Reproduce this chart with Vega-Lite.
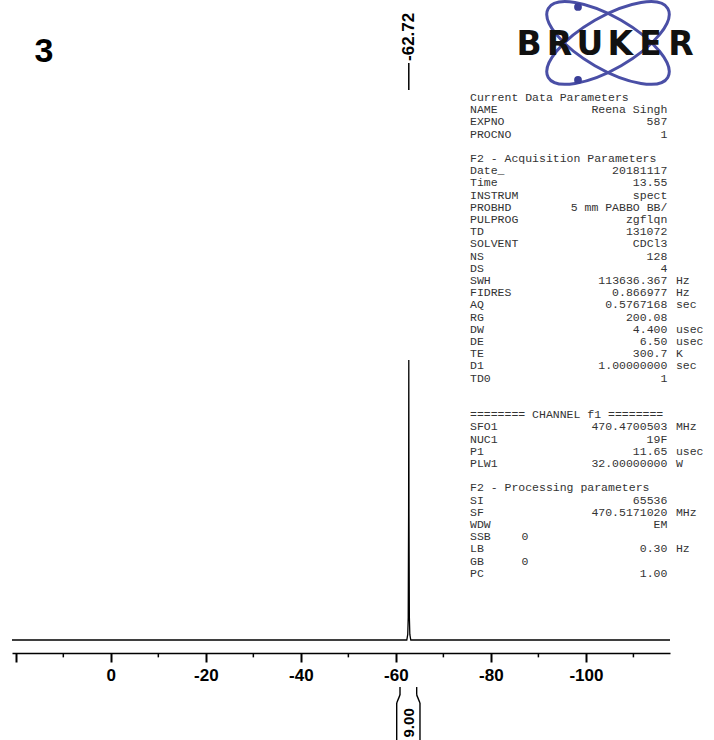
{
  "$schema": "https://vega.github.io/schema/vega-lite/v6.json",
  "width": 658,
  "height": 653,
  "autosize": {"type": "none"},
  "padding": {"left": 12, "top": 0, "right": 44, "bottom": 87},
  "background": "white",
  "config": {"view": {"stroke": null}},
  "datasets": {
    "spectrum": [
      {"ppm": 20.8, "intensity": 0},
      {"ppm": -62.3, "intensity": 0},
      {"ppm": -62.5, "intensity": 2},
      {"ppm": -62.6, "intensity": 8},
      {"ppm": -62.68, "intensity": 45},
      {"ppm": -62.72, "intensity": 100},
      {"ppm": -62.76, "intensity": 45},
      {"ppm": -62.84, "intensity": 8},
      {"ppm": -62.94, "intensity": 2},
      {"ppm": -63.14, "intensity": 0},
      {"ppm": -117.7, "intensity": 0}
    ],
    "minorTicks": [
      {"ppm": 10}, {"ppm": -10}, {"ppm": -30}, {"ppm": -50},
      {"ppm": -70}, {"ppm": -90}, {"ppm": -110}
    ],
    "peaks": [{"ppm": -62.72, "label": "-62.72"}],
    "integrals": [{"start": -60.87, "end": -64.38, "ppm": -62.72, "label": "9.00"}],
    "compound": [{"label": "3"}],
    "params": [
      {"row": 0, "name": "Current Data Parameters"},
      {"row": 1, "name": "NAME", "value": "Reena Singh"},
      {"row": 2, "name": "EXPNO", "value": "587"},
      {"row": 3, "name": "PROCNO", "value": "1"},
      {"row": 5, "name": "F2 - Acquisition Parameters"},
      {"row": 6, "name": "Date_", "value": "20181117"},
      {"row": 7, "name": "Time", "value": "13.55"},
      {"row": 8, "name": "INSTRUM", "value": "spect"},
      {"row": 9, "name": "PROBHD", "value": "5 mm PABBO BB/"},
      {"row": 10, "name": "PULPROG", "value": "zgflqn"},
      {"row": 11, "name": "TD", "value": "131072"},
      {"row": 12, "name": "SOLVENT", "value": "CDCl3"},
      {"row": 13, "name": "NS", "value": "128"},
      {"row": 14, "name": "DS", "value": "4"},
      {"row": 15, "name": "SWH", "value": "113636.367", "unit": "Hz"},
      {"row": 16, "name": "FIDRES", "value": "0.866977", "unit": "Hz"},
      {"row": 17, "name": "AQ", "value": "0.5767168", "unit": "sec"},
      {"row": 18, "name": "RG", "value": "200.08"},
      {"row": 19, "name": "DW", "value": "4.400", "unit": "usec"},
      {"row": 20, "name": "DE", "value": "6.50", "unit": "usec"},
      {"row": 21, "name": "TE", "value": "300.7", "unit": "K"},
      {"row": 22, "name": "D1", "value": "1.00000000", "unit": "sec"},
      {"row": 23, "name": "TD0", "value": "1"},
      {"row": 26, "name": "======== CHANNEL f1 ========"},
      {"row": 27, "name": "SFO1", "value": "470.4700503", "unit": "MHz"},
      {"row": 28, "name": "NUC1", "value": "19F"},
      {"row": 29, "name": "P1", "value": "11.65", "unit": "usec"},
      {"row": 30, "name": "PLW1", "value": "32.00000000", "unit": "W"},
      {"row": 32, "name": "F2 - Processing parameters"},
      {"row": 33, "name": "SI", "value": "65536"},
      {"row": 34, "name": "SF", "value": "470.5171020", "unit": "MHz"},
      {"row": 35, "name": "WDW", "value": "EM"},
      {"row": 36, "name": "SSB", "mid": "0"},
      {"row": 37, "name": "LB", "value": "0.30", "unit": "Hz"},
      {"row": 38, "name": "GB", "mid": "0"},
      {"row": 39, "name": "PC", "value": "1.00"}
    ],
    "logo": [
      {"ch": "B", "k": 0},
      {"ch": "R", "k": 1},
      {"ch": "U", "k": 2},
      {"ch": "K", "k": 3},
      {"ch": "E", "k": 4},
      {"ch": "R", "k": 5}
    ]
  },
  "layer": [
    {
      "data": {"name": "spectrum"},
      "mark": {"type": "line", "color": "black", "strokeWidth": 1.3},
      "encoding": {
        "x": {
          "field": "ppm", "type": "quantitative",
          "scale": {"domain": [-117.7, 20.8], "reverse": true, "nice": false, "zero": false},
          "axis": {
            "orient": "bottom",
            "values": [20, 0, -20, -40, -60, -80, -100],
            "labelExpr": "datum.value == 20 ? '' : (datum.value < 0 ? '-' + abs(datum.value) : '' + datum.value)",
            "title": null,
            "grid": false,
            "domainColor": "black",
            "domainWidth": 1.5,
            "tickColor": "black",
            "tickWidth": 2,
            "tickSize": 9,
            "labelFont": "Liberation Sans",
            "labelFontWeight": "bold",
            "labelFontSize": 17,
            "labelColor": "black",
            "labelPadding": 5,
            "labelOverlap": false
          }
        },
        "y": {
          "field": "intensity", "type": "quantitative",
          "scale": {"domain": [-4.643, 228.571], "nice": false, "zero": false},
          "axis": null
        }
      }
    },
    {
      "data": {"name": "minorTicks"},
      "mark": {"type": "rule", "color": "black", "strokeWidth": 1.5},
      "encoding": {
        "x": {"field": "ppm", "type": "quantitative", "scale": {"domain": [-117.7, 20.8], "reverse": true, "nice": false, "zero": false}, "axis": null},
        "y": {"datum": -4.643, "type": "quantitative", "scale": {"domain": [-4.643, 228.571], "nice": false, "zero": false}, "axis": null},
        "y2": {"datum": -6.2}
      }
    },
    {
      "data": {"name": "peaks"},
      "mark": {"type": "rule", "color": "black", "strokeWidth": 1.5},
      "encoding": {
        "x": {"field": "ppm", "type": "quantitative", "scale": {"domain": [-117.7, 20.8], "reverse": true, "nice": false, "zero": false}, "axis": null},
        "y": {"datum": 206.07, "type": "quantitative", "scale": {"domain": [-4.643, 228.571], "nice": false, "zero": false}, "axis": null},
        "y2": {"datum": 196.43}
      }
    },
    {
      "data": {"name": "peaks"},
      "mark": {"type": "text", "angle": 270, "align": "left", "baseline": "middle", "font": "Liberation Sans", "fontWeight": "bold", "fontSize": 17, "color": "black"},
      "encoding": {
        "x": {"field": "ppm", "type": "quantitative", "scale": {"domain": [-117.7, 20.8], "reverse": true, "nice": false, "zero": false}, "axis": null},
        "y": {"datum": 206.8, "type": "quantitative", "scale": {"domain": [-4.643, 228.571], "nice": false, "zero": false}, "axis": null},
        "text": {"field": "label"}
      }
    },
    {
      "data": {"name": "integrals"},
      "mark": {"type": "rule", "color": "black", "strokeWidth": 1.4},
      "encoding": {
        "x": {"field": "start", "type": "quantitative", "scale": {"domain": [-117.7, 20.8], "reverse": true, "nice": false, "zero": false}, "axis": null},
        "y": {"datum": -16.8, "type": "quantitative", "scale": {"domain": [-4.643, 228.571], "nice": false, "zero": false}, "axis": null},
        "y2": {"datum": -19.6}
      }
    },
    {
      "data": {"name": "integrals"},
      "mark": {"type": "rule", "color": "black", "strokeWidth": 1.4},
      "encoding": {
        "x": {"field": "end", "type": "quantitative", "scale": {"domain": [-117.7, 20.8], "reverse": true, "nice": false, "zero": false}, "axis": null},
        "y": {"datum": -16.8, "type": "quantitative", "scale": {"domain": [-4.643, 228.571], "nice": false, "zero": false}, "axis": null},
        "y2": {"datum": -19.6}
      }
    },
    {
      "data": {"name": "integrals"},
      "mark": {"type": "rule", "color": "black", "strokeWidth": 1.4, "x2Offset": -3.3},
      "encoding": {
        "x": {"field": "start", "type": "quantitative", "scale": {"domain": [-117.7, 20.8], "reverse": true, "nice": false, "zero": false}, "axis": null},
        "x2": {"field": "start"},
        "y": {"datum": -19.6, "type": "quantitative", "scale": {"domain": [-4.643, 228.571], "nice": false, "zero": false}, "axis": null},
        "y2": {"datum": -22.5}
      }
    },
    {
      "data": {"name": "integrals"},
      "mark": {"type": "rule", "color": "black", "strokeWidth": 1.4, "x2Offset": 3.3},
      "encoding": {
        "x": {"field": "end", "type": "quantitative", "scale": {"domain": [-117.7, 20.8], "reverse": true, "nice": false, "zero": false}, "axis": null},
        "x2": {"field": "end"},
        "y": {"datum": -19.6, "type": "quantitative", "scale": {"domain": [-4.643, 228.571], "nice": false, "zero": false}, "axis": null},
        "y2": {"datum": -22.5}
      }
    },
    {
      "data": {"name": "integrals"},
      "mark": {"type": "rule", "color": "black", "strokeWidth": 1.4, "xOffset": -3.3},
      "encoding": {
        "x": {"field": "start", "type": "quantitative", "scale": {"domain": [-117.7, 20.8], "reverse": true, "nice": false, "zero": false}, "axis": null},
        "y": {"datum": -22.5, "type": "quantitative", "scale": {"domain": [-4.643, 228.571], "nice": false, "zero": false}, "axis": null},
        "y2": {"datum": -37.5}
      }
    },
    {
      "data": {"name": "integrals"},
      "mark": {"type": "rule", "color": "black", "strokeWidth": 1.4, "xOffset": 3.3},
      "encoding": {
        "x": {"field": "end", "type": "quantitative", "scale": {"domain": [-117.7, 20.8], "reverse": true, "nice": false, "zero": false}, "axis": null},
        "y": {"datum": -22.5, "type": "quantitative", "scale": {"domain": [-4.643, 228.571], "nice": false, "zero": false}, "axis": null},
        "y2": {"datum": -37.5}
      }
    },
    {
      "data": {"name": "integrals"},
      "mark": {"type": "text", "angle": 270, "align": "center", "baseline": "middle", "font": "Liberation Sans", "fontWeight": "bold", "fontSize": 15, "color": "black"},
      "encoding": {
        "x": {"field": "ppm", "type": "quantitative", "scale": {"domain": [-117.7, 20.8], "reverse": true, "nice": false, "zero": false}, "axis": null},
        "y": {"datum": -29.6, "type": "quantitative", "scale": {"domain": [-4.643, 228.571], "nice": false, "zero": false}, "axis": null},
        "text": {"field": "label"}
      }
    },
    {
      "data": {"name": "compound"},
      "mark": {"type": "text", "align": "center", "baseline": "alphabetic", "font": "Liberation Sans", "fontWeight": "bold", "fontSize": 34, "color": "black"},
      "encoding": {
        "x": {"datum": 14.06, "type": "quantitative", "scale": {"domain": [-117.7, 20.8], "reverse": true, "nice": false, "zero": false}, "axis": null},
        "y": {"datum": 206.4, "type": "quantitative", "scale": {"domain": [-4.643, 228.571], "nice": false, "zero": false}, "axis": null},
        "text": {"field": "label"}
      }
    },
    {
      "data": {"name": "params"},
      "mark": {"type": "text", "align": "left", "baseline": "middle", "font": "Liberation Mono", "fontSize": 11.5, "color": "#333333"},
      "encoding": {
        "x": {"datum": 0, "type": "quantitative", "scale": {"domain": [-53.38, 23.31], "nice": false, "zero": false}, "axis": null},
        "y": {"field": "row", "type": "quantitative", "scale": {"domain": [-8.033, 45.492], "reverse": true, "nice": false, "zero": false}, "axis": null},
        "text": {"field": "name"}
      }
    },
    {
      "data": {"name": "params"},
      "transform": [{"filter": "isValid(datum.value)"}],
      "mark": {"type": "text", "align": "right", "baseline": "middle", "font": "Liberation Mono", "fontSize": 11.5, "color": "#333333"},
      "encoding": {
        "x": {"datum": 23, "type": "quantitative", "scale": {"domain": [-53.38, 23.31], "nice": false, "zero": false}, "axis": null},
        "y": {"field": "row", "type": "quantitative", "scale": {"domain": [-8.033, 45.492], "reverse": true, "nice": false, "zero": false}, "axis": null},
        "text": {"field": "value"}
      }
    },
    {
      "data": {"name": "params"},
      "transform": [{"filter": "isValid(datum.unit)"}],
      "mark": {"type": "text", "align": "left", "baseline": "middle", "font": "Liberation Mono", "fontSize": 11.5, "color": "#333333"},
      "encoding": {
        "x": {"datum": 24, "type": "quantitative", "scale": {"domain": [-53.38, 23.31], "nice": false, "zero": false}, "axis": null},
        "y": {"field": "row", "type": "quantitative", "scale": {"domain": [-8.033, 45.492], "reverse": true, "nice": false, "zero": false}, "axis": null},
        "text": {"field": "unit"}
      }
    },
    {
      "data": {"name": "params"},
      "transform": [{"filter": "isValid(datum.mid)"}],
      "mark": {"type": "text", "align": "left", "baseline": "middle", "font": "Liberation Mono", "fontSize": 11.5, "color": "#333333"},
      "encoding": {
        "x": {"datum": 6, "type": "quantitative", "scale": {"domain": [-53.38, 23.31], "nice": false, "zero": false}, "axis": null},
        "y": {"field": "row", "type": "quantitative", "scale": {"domain": [-8.033, 45.492], "reverse": true, "nice": false, "zero": false}, "axis": null},
        "text": {"field": "mid"}
      }
    },
    {
      "data": {"values": [{"orbit": "a"}]},
      "mark": {"type": "point", "shape": "M -1 0 C -1 -0.21 -0.552 -0.38 0 -0.38 C 0.552 -0.38 1 -0.21 1 0 C 1 0.21 0.552 0.38 0 0.38 C -0.552 0.38 -1 0.21 -1 0 Z", "size": 19044, "filled": false, "stroke": "#4a4fa6", "strokeWidth": 3, "opacity": 1, "angle": 30},
      "encoding": {
        "x": {"datum": 2.599, "type": "quantitative", "scale": {"domain": [-17.007, 4.638], "nice": false, "zero": false}, "axis": null},
        "y": {"datum": 0, "type": "quantitative", "scale": {"domain": [-1.414, 20.066], "reverse": true, "nice": false, "zero": false}, "axis": null}
      }
    },
    {
      "data": {"values": [{"orbit": "b"}]},
      "mark": {"type": "point", "shape": "M -1 0 C -1 -0.21 -0.552 -0.38 0 -0.38 C 0.552 -0.38 1 -0.21 1 0 C 1 0.21 0.552 0.38 0 0.38 C -0.552 0.38 -1 0.21 -1 0 Z", "size": 19044, "filled": false, "stroke": "#4a4fa6", "strokeWidth": 3, "opacity": 1, "angle": -30},
      "encoding": {
        "x": {"datum": 2.599, "type": "quantitative", "scale": {"domain": [-17.007, 4.638], "nice": false, "zero": false}, "axis": null},
        "y": {"datum": 0, "type": "quantitative", "scale": {"domain": [-1.414, 20.066], "reverse": true, "nice": false, "zero": false}, "axis": null}
      }
    },
    {
      "data": {"values": [{"dot": "top"}]},
      "mark": {"type": "point", "shape": "circle", "size": 60, "filled": true, "color": "#3b3f98", "opacity": 1},
      "encoding": {
        "x": {"datum": 1.612, "type": "quantitative", "scale": {"domain": [-17.007, 4.638], "nice": false, "zero": false}, "axis": null},
        "y": {"datum": -1.184, "type": "quantitative", "scale": {"domain": [-1.414, 20.066], "reverse": true, "nice": false, "zero": false}, "axis": null}
      }
    },
    {
      "data": {"values": [{"dot": "bottom"}]},
      "mark": {"type": "point", "shape": "circle", "size": 60, "filled": true, "color": "#3b3f98", "opacity": 1},
      "encoding": {
        "x": {"datum": 1.612, "type": "quantitative", "scale": {"domain": [-17.007, 4.638], "nice": false, "zero": false}, "axis": null},
        "y": {"datum": 1.217, "type": "quantitative", "scale": {"domain": [-1.414, 20.066], "reverse": true, "nice": false, "zero": false}, "axis": null}
      }
    },
    {
      "data": {"name": "logo"},
      "mark": {"type": "text", "align": "center", "baseline": "alphabetic", "font": "DejaVu Sans", "fontWeight": "bold", "fontSize": 33, "color": "#111111"},
      "encoding": {
        "x": {"field": "k", "type": "quantitative", "scale": {"domain": [-17.007, 4.638], "nice": false, "zero": false}, "axis": null},
        "y": {"datum": 0.395, "type": "quantitative", "scale": {"domain": [-1.414, 20.066], "reverse": true, "nice": false, "zero": false}, "axis": null},
        "text": {"field": "ch"}
      }
    }
  ],
  "resolve": {"scale": {"x": "independent", "y": "independent"}}
}
